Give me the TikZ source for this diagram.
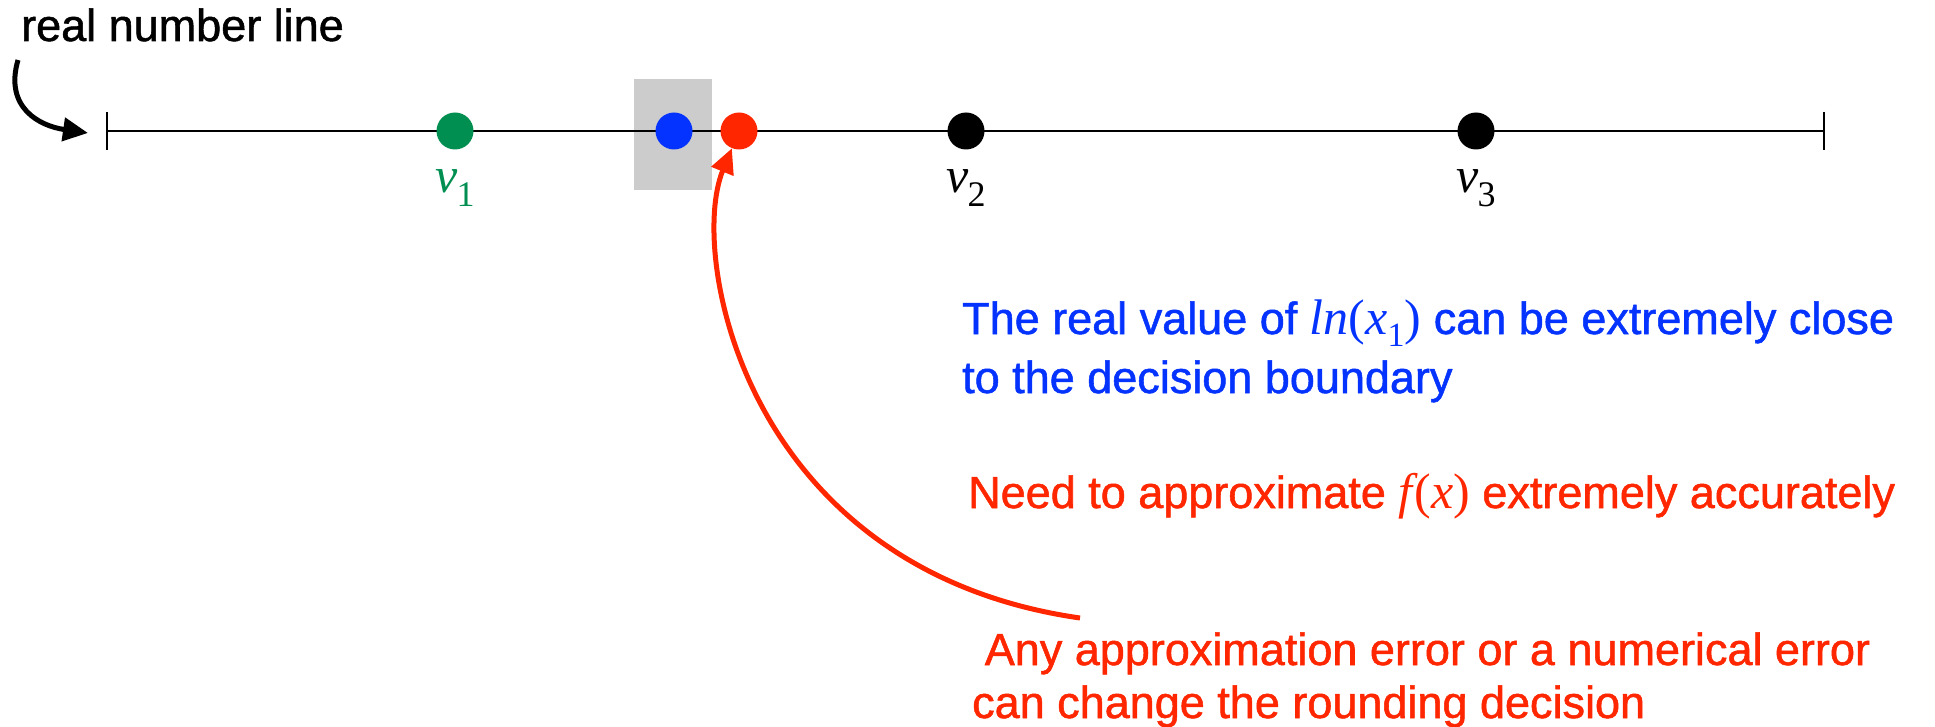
\documentclass[tikz,border=0pt]{standalone}
\usepackage{fontspec}
\setmainfont{Liberation Sans}[FakeBold=1.2]
\newfontfamily\tms{Liberation Serif}
\usetikzlibrary{arrows.meta}
\definecolor{pgreen}{RGB}{0,143,81}
\definecolor{pblue}{RGB}{4,51,255}
\definecolor{pred}{RGB}{255,38,0}
\definecolor{pgray}{RGB}{204,204,204}
\newcommand{\vlab}[1]{{\tms\fontsize{50}{50}\selectfont\itshape v}\kern-1pt\raisebox{-14pt}{\tms\fontsize{36}{36}\selectfont #1}}
\newcommand{\mthsz}{\tms\fontsize{50}{50}\selectfont}
\tikzset{
  dot/.style={circle, minimum size=37pt, inner sep=0pt, draw=none},
  vlabel/.style={anchor=base, inner sep=0pt},
  sanstext/.style={anchor=base west, inner sep=0pt, align=left, font=\fontsize{45}{59}\selectfont},
  numline/.style={line width=2pt, black},
  bigarrow/.style={line width=5pt, -{Triangle[length=25pt, width=23pt]}}
}
\begin{document}
\begin{tikzpicture}[x=1pt, y=-1pt]
\useasboundingbox (0,0) rectangle (1935,727);
% highlight box
\fill[pgray] (634,79) rectangle (712,190);
% number line
\coordinate (L) at (107,131);
\coordinate (R) at (1824,131);
\draw[numline] (L) -- (R);
\draw[numline] ([yshift=19pt]L) -- ([yshift=-19pt]L);
\draw[numline] ([yshift=19pt]R) -- ([yshift=-19pt]R);
% dots
\node[dot, fill=pgreen] (v1) at (455,131) {};
\node[dot, fill=pblue] (bdot) at (674,131) {};
\node[dot, fill=pred] (rdot) at (739,131) {};
\node[dot, fill=black] (v2) at (966,131) {};
\node[dot, fill=black] (v3) at (1476,131) {};
% labels
\node[vlabel, text=pgreen] (v1l) at (455,193) {\vlab{1}};
\node[vlabel, text=black] (v2l) at (966,193) {\vlab{2}};
\node[vlabel, text=black] (v3l) at (1476,193) {\vlab{3}};
% texts (base anchor = baseline of the last line)
\node[sanstext] (rnl) at (21,41) {real number line};
\node[sanstext, text=pblue] (btxt) at (962,393) {The real value of {\mthsz\itshape ln}{\mthsz(}{\mthsz\itshape x}\raisebox{-12pt}{\tms\fontsize{34}{34}\selectfont 1}{\mthsz)} can be extremely close\\to the decision boundary};
\node[sanstext, text=pred] (rtxt) at (968,508) {Need to approximate {\mthsz\itshape f}\kern2pt{\mthsz(}{\mthsz\itshape x}{\mthsz)} extremely accurately};
\node[sanstext, text=pred, font=\fontsize{45}{53}\selectfont] (etxt) at (972,718) {\hspace*{0.28em}Any approximation error or a numerical error\\can change the rounding decision};
% arrows
\coordinate (a1s) at (18,60);
\coordinate (a1e) at (88,133);
\draw[bigarrow, black] (a1s) .. controls (4,108) and (40,126) .. (a1e);
\coordinate (a2s) at (1080,618);
\draw[bigarrow, pred] (a2s) .. controls (745,570) and (688,255) .. (rdot);
\end{tikzpicture}
\end{document}
